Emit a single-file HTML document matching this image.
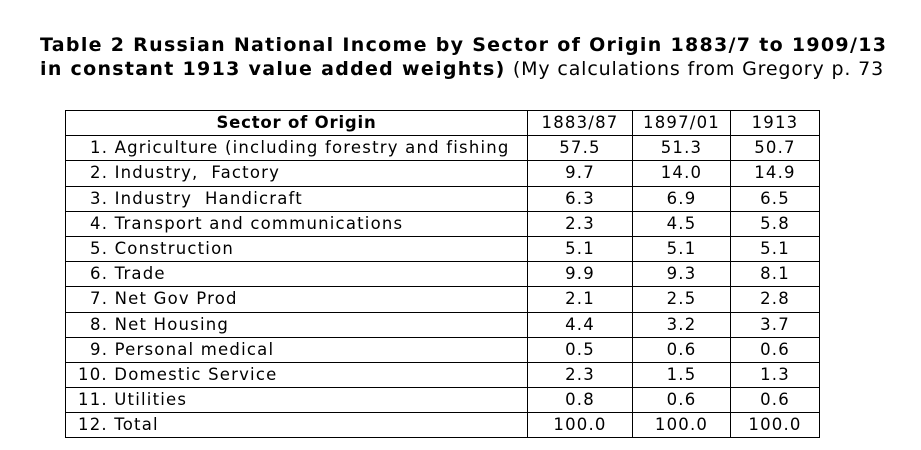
<!DOCTYPE html>
<html><head><meta charset="utf-8"><style>
body{margin:0;background:#fff;width:921px;height:450px;overflow:hidden;font-family:"DejaVu Sans","Liberation Sans",sans-serif;color:#000}
.t{position:absolute;left:40px;top:33px;font-size:19px;line-height:24px;white-space:nowrap;letter-spacing:1.3px}
.t b{font-weight:bold}
.t span{letter-spacing:0.85px}
table{position:absolute;left:65px;top:110px;border-collapse:collapse;font-size:16.5px;letter-spacing:1.2px}
td{border:1px solid #000;height:24.2px;padding:0;line-height:24px;text-align:center;white-space:nowrap}
td.l{text-align:left;padding-left:24px}
td.m{text-align:left;padding-left:12px}
</style></head><body>
<div class="t"><b>Table 2 Russian National Income by Sector of Origin 1883/7 to 1909/13</b><br><b>in constant 1913 value added weights)</b> <span>(My calculations from Gregory p. 73</span></div>
<table>
<colgroup><col style="width:462px"><col style="width:105px"><col style="width:98px"><col style="width:89px"></colgroup>
<tr><td style="font-weight:bold;letter-spacing:0.8px">Sector of Origin</td><td>1883/87</td><td>1897/01</td><td>1913</td></tr>
<tr><td class="l">1. Agriculture (including forestry and fishing</td><td>57.5</td><td>51.3</td><td>50.7</td></tr>
<tr><td class="l">2. Industry,&nbsp; Factory</td><td>9.7</td><td>14.0</td><td>14.9</td></tr>
<tr><td class="l">3. Industry&nbsp; Handicraft</td><td>6.3</td><td>6.9</td><td>6.5</td></tr>
<tr><td class="l">4. Transport and communications</td><td>2.3</td><td>4.5</td><td>5.8</td></tr>
<tr><td class="l">5. Construction</td><td>5.1</td><td>5.1</td><td>5.1</td></tr>
<tr><td class="l">6. Trade</td><td>9.9</td><td>9.3</td><td>8.1</td></tr>
<tr><td class="l">7. Net Gov Prod</td><td>2.1</td><td>2.5</td><td>2.8</td></tr>
<tr><td class="l">8. Net Housing</td><td>4.4</td><td>3.2</td><td>3.7</td></tr>
<tr><td class="l">9. Personal medical</td><td>0.5</td><td>0.6</td><td>0.6</td></tr>
<tr><td class="m">10. Domestic Service</td><td>2.3</td><td>1.5</td><td>1.3</td></tr>
<tr><td class="m">11. Utilities</td><td>0.8</td><td>0.6</td><td>0.6</td></tr>
<tr><td class="m">12. Total</td><td>100.0</td><td>100.0</td><td>100.0</td></tr>
</table>
</body></html>
